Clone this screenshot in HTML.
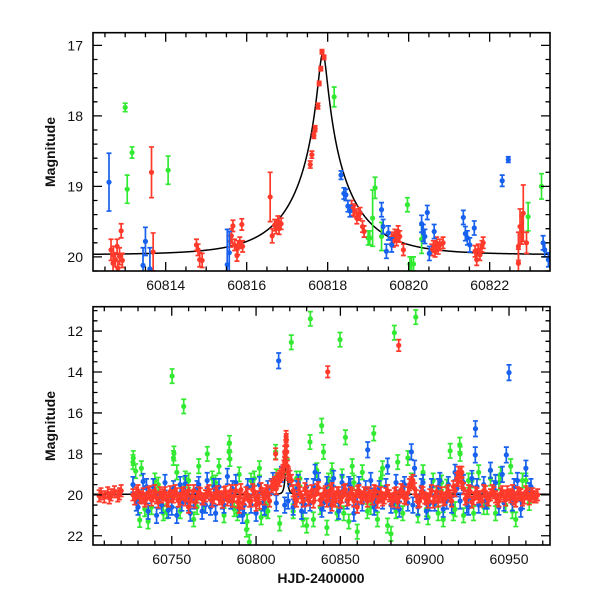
<!DOCTYPE html>
<html><head><meta charset="utf-8"><style>
html,body{margin:0;padding:0;background:#fff;}
svg{display:block;font-family:"Liberation Sans",Arial,sans-serif;}
</style></head><body>
<svg id="chart" width="600" height="600" viewBox="0 0 600 600" xmlns="http://www.w3.org/2000/svg">
<defs>
<clipPath id="clipTop"><rect x="93" y="32.7" width="457" height="238.3"/></clipPath>
<clipPath id="clipBot"><rect x="93" y="306.7" width="457" height="238.3"/></clipPath>
</defs>
<g id="top"></g>
<g id="bot"></g>
<text x="0" y="0" transform="translate(55,152) rotate(-90)" text-anchor="middle" font-size="14" font-weight="bold" fill="#111">Magnitude</text>
<text x="0" y="0" transform="translate(55,426) rotate(-90)" text-anchor="middle" font-size="14" font-weight="bold" fill="#111">Magnitude</text>
<text x="321" y="583" text-anchor="middle" font-size="14" font-weight="bold" fill="#111">HJD-2400000</text>
</svg>
<script>
// ---- top panel data ----
const topRedT=[60812.9,60812.65,60812.71,60812.76,60812.82,60812.93,60812.7,60812.8,60812.86,60813.65,60813.69,60814.76,60814.8,60814.84,60814.9,60815.62,60815.66,60815.88,60815.7,60815.78,60815.9,60815.76,60815.83,60815.6,60816.58,60816.63,60816.69,60816.77,60816.85,60816.73,60816.8,60817.57,60817.61,60817.66,60817.69,60817.76,60817.79,60817.83,60817.86,60817.91,60818.59,60818.67,60818.76,60818.63,60818.8,60818.72,60818.86,60818.9,60819.58,60819.66,60819.74,60819.78,60819.87,60819.7,60819.62,60820.61,60820.69,60820.77,60820.85,60820.65,60820.73,60820.57,60821.64,60821.72,60821.81,60821.84,60821.68,60821.76,60822.71,60822.75,60822.79,60822.83,60822.71,60822.91];
const topRedM=[19.63,19.9,19.97,20.04,20.16,20.05,20.09,19.85,19.99,18.80,19.93,19.83,19.9,20.04,20.05,19.7,19.56,19.54,19.83,19.87,19.85,19.98,19.8,19.78,19.15,19.7,19.55,19.5,19.53,19.59,19.6,18.69,18.55,18.28,18.18,17.86,17.54,17.33,17.09,17.17,19.28,19.35,19.40,19.33,19.38,19.45,19.57,19.64,19.73,19.69,19.64,19.71,19.9,19.76,19.78,19.85,19.8,19.83,19.8,19.92,19.88,19.9,19.92,19.9,19.85,19.8,20.04,19.97,19.85,19.57,19.62,19.38,20.09,19.8];
const topRedE=[0.1,0.15,0.12,0.1,0.1,0.1,0.13,0.1,0.12,0.36,0.27,0.08,0.08,0.1,0.1,0.1,0.08,0.08,0.08,0.1,0.08,0.08,0.08,0.08,0.35,0.1,0.08,0.08,0.08,0.08,0.08,0.05,0.05,0.04,0.04,0.04,0.03,0.03,0.03,0.03,0.08,0.08,0.08,0.08,0.08,0.08,0.08,0.08,0.08,0.08,0.08,0.08,0.08,0.08,0.08,0.08,0.08,0.08,0.08,0.08,0.08,0.08,0.08,0.08,0.08,0.08,0.08,0.08,0.2,0.25,0.2,0.4,0.2,0.15];
const topBlueT=[60812.60,60813.50,60813.44,60813.61,60815.52,60815.57,60818.33,60818.40,60818.45,60818.5,60818.55,60819.33,60819.37,60819.45,60819.5,60819.58,60820.32,60820.36,60820.4,60820.46,60820.63,60820.51,60821.35,60821.4,60821.45,60821.51,60821.62,60822.31,60822.46,60823.32,60823.36,60823.45];
const topBlueM=[18.94,19.78,20.12,20.17,20.11,19.94,18.84,19.1,19.12,19.28,19.35,19.33,19.57,19.92,19.66,19.83,19.53,19.66,19.71,19.37,19.64,19.95,19.44,19.67,19.73,19.83,19.59,18.92,18.62,19.8,19.9,20.04];
const topBlueE=[0.41,0.2,0.25,0.3,0.5,0.3,0.06,0.08,0.08,0.08,0.08,0.1,0.1,0.1,0.1,0.1,0.12,0.12,0.1,0.1,0.1,0.1,0.1,0.1,0.1,0.1,0.1,0.08,0.04,0.1,0.1,0.1];
const topGreenT=[60813.0,60813.17,60813.05,60814.06,60818.16,60819.17,60819.11,60819.0,60819.04,60819.33,60819.97,60820.03,60820.07,60820.12,60820.32,60822.95,60823.28];
const topGreenM=[17.88,18.52,19.04,18.77,17.73,19.02,19.45,19.73,19.73,19.71,19.26,20.1,20.1,20.1,19.75,19.43,19.0];
const topGreenE=[0.06,0.08,0.2,0.2,0.14,0.15,0.4,0.1,0.1,0.2,0.1,0.1,0.1,0.1,0.2,0.2,0.18];
const topXTicks=[60814,60816,60818,60820,60822];
const topYTicks=[17,18,19,20];
// ---- bottom panel data ----
const botRedT=[60707,60708,60710,60712,60713,60714,60716,60718,60719,60720,
60727,60729,60731,60733,60735,60737,60739,60741,60743,60745,60747,60749,60751,60753,60755,60757,60759,60761,60763,60765,60767,60769,60771,60773,60775,60777,60779,60781,60783,60785,60787,60789,60791,60793,60795,60797,60799,60801,60803,60805,60807,60809,60811,60813,60815,60817,60819,60821,60823,60825,60827,60829,60831,60833,60835,60837,60839,60841,60843,60845,60847,60849,60851,60853,60855,60857,60859,60861,60863,60865,60867,60869,60871,60873,60875,60877,60879,60881,60883,60885,60887,60889,60891,60893,60895,60897,60899,60901,60903,60905,60907,60909,60911,60913,60915,60917,60919,60921,60923,60925,60927,60929,60931,60933,60935,60937,60939,60941,60943,60945,60947,60949,60951,60953,60955,60957,60959,60961,60963,60965,60967,
60817.3,60817.6,60817.8,60817.9,60818.2,60811.6,60814,60842.5,60884.6,60760,60790,60800,60845,60860,60920,60922,60816.5,60817.0,60818.6,60819.2,60815.8,60812.5];
const botRedM=[20.05,19.95,20.1,19.9,20.15,20.0,19.85,20.05,19.95,19.8,
20.0,19.9,20.1,19.95,20.2,19.85,20.05,20.15,19.9,20.0,20.25,19.85,20.1,19.95,20.2,19.9,20.05,20.3,19.8,20.1,19.95,20.2,19.9,20.0,20.15,19.85,20.1,19.9,20.25,19.8,20.05,20.35,19.75,20.2,20.0,20.3,19.85,20.1,19.7,20.2,19.9,19.6,19.4,19.2,19.0,18.4,18.9,19.3,20.2,19.5,20.1,19.7,20.25,19.8,20.0,19.65,20.2,19.85,20.05,19.7,20.3,19.9,20.1,19.75,20.2,19.95,20.05,19.8,20.15,20.0,19.9,20.2,19.85,20.1,20.25,19.95,20.05,20.3,19.9,20.1,19.85,20.2,19.5,19.3,20.05,20.3,19.9,20.2,20.0,20.35,19.85,20.1,20.25,19.9,20.05,19.6,19.2,18.9,19.7,20.1,19.85,20.2,19.95,20.1,19.8,20.15,20.0,19.9,20.2,19.95,20.05,19.85,20.1,20.2,19.9,20.0,20.15,19.95,20.05,20.1,20.0,
18.3,17.6,17.15,17.3,17.9,18.0,19.1,13.99,12.7,20.6,20.6,20.5,20.5,20.6,18.9,18.9,18.6,17.9,18.6,19.0,18.9,19.3];
const botRed2T=[60728,60730,60732,60734,60736,60738,60740,60742,60744,60746,60748,60750,60752,60754,60756,60758,60760,60762,60764,60766,60768,60770,60772,60774,60776,60778,60780,60782,60784,60786,60788,60790,60792,60794,60796,60798,60800,60802,60804,60806,60808,60810,60812,60814,60816,60818,60820,60822,60824,60826,60828,60830,60832,60834,60836,60838,60840,60842,60844,60846,60848,60850,60852,60854,60856,60858,60860,60862,60864,60866,60868,60870,60872,60874,60876,60878,60880,60882,60884,60886,60888,60890,60892,60894,60896,60898,60900,60902,60904,60906,60908,60910,60912,60914,60916,60918,60920,60922,60924,60926,60928,60930,60932,60934,60936,60938,60940,60942,60944,60946,60948,60950,60952,60954,60956,60958,60960,60962,60964,60966];
const botRed2M=[20.2,19.8,20.15,20.3,19.9,20.25,19.8,20.35,20.1,19.9,20.3,20.05,19.8,20.3,19.95,20.25,19.8,20.1,20.35,19.9,20.2,20.05,19.8,20.3,19.95,20.2,20.35,19.85,20.1,20.3,19.8,20.15,20.4,19.9,20.3,19.75,20.25,20.4,19.95,19.8,20.3,19.5,19.7,19.3,18.8,17.6,19.1,19.8,20.3,19.9,20.3,19.85,20.1,20.35,19.75,20.25,19.95,20.3,19.8,20.1,19.9,20.35,19.8,20.25,19.9,20.3,19.85,20.1,19.9,20.3,20.05,19.8,20.35,19.9,20.15,19.8,20.2,19.95,20.35,19.75,20.15,19.9,19.4,19.7,20.35,19.85,20.15,20.35,19.8,20.1,20.3,19.9,20.2,19.8,20.3,19.8,19.3,19.4,20.2,19.8,20.35,19.9,20.1,20.3,19.85,20.25,19.8,20.1,20.3,19.85,20.25,20.0,19.8,20.3,19.95,20.25,19.85,20.2,19.95,20.1];
const botBlueT=[60727,60730,60733,60736,60739,60741,60744,60746,60748,60751,60753,60756,60758,60761,60763,60766,60768,60771,60773,60776,60778,60781,60783,60785,60788,60790,60792,60795,60797,60800,60802,60805,60807,60810,60812,60813.4,60815,60817,60820,60822,60825,60827,60830,60832,60835,60837,60839,60842,60844,60846,60849,60851,60854,60856,60858,60861,60863,60866.2,60868,60870,60873,60875,60878,60880,60883,60885,60888,60890,60892.1,60894,60896,60899,60901,60904,60906,60909,60911,60914,60916,60918,60921,60923,60926,60928,60930.1,60930,60932,60935,60937,60939,60942,60944,60946,60948.4,60950,60952,60955,60957,60960,60963,
60729,60735,60742,60750,60755,60760,60765,60770,60775,60780,60786,60793,60798,60804,60809,60819,60824,60829,60834,60840,60845,60850,60855,60860,60865,60871,60877,60882,60887,60893,60898,60903,60908,60913,60919,60925,60931,60936,60941,60947,60953,60958,60962];
const botBlueM=[19.5,20.6,19.35,20.8,19.6,21.0,20.5,19.4,20.75,19.7,21.0,20.4,19.45,20.9,20.3,19.5,20.8,19.3,20.6,20.9,19.6,20.5,19.1,20.3,19.4,20.7,21.0,19.6,20.5,20.9,19.5,20.6,19.7,19.3,20.4,13.45,19.0,20.5,19.2,20.6,19.4,20.8,19.6,20.4,18.9,19.3,20.7,19.5,20.5,19.2,20.8,19.4,20.3,19.6,20.9,19.5,20.4,17.8,19.3,20.6,19.7,20.3,18.6,20.5,19.4,20.7,19.5,20.4,17.9,18.7,20.6,19.4,20.8,19.6,20.4,19.3,20.7,19.5,20.5,18.9,20.3,19.4,20.6,19.2,16.77,18.05,20.5,19.5,20.3,18.8,19.4,20.6,19.0,18.05,14.03,20.4,19.3,20.7,18.7,19.6,
20.4,19.6,20.3,20.6,19.5,20.4,19.7,20.5,19.6,20.3,19.7,20.5,19.6,20.4,19.6,20.3,19.7,20.5,19.6,20.4,19.7,20.3,19.5,20.5,19.7,20.4,19.6,20.3,19.7,20.5,19.6,20.4,19.6,20.3,19.7,20.5,19.6,20.3,19.7,20.4,19.6,20.3,19.8];
const botGreenT=[60727.2,60727,60728.6,60731,60732,60736,60738,60742,60745,60750.2,60751.3,60751,60753,60755,60757.1,60760,60763,60766,60769,60771.1,60774,60778,60781,60784.2,60784,60784.5,60787,60790,60794.7,60794.3,60796,60799,60802,60803,60807,60811.6,60814,60817.8,60818.5,60820.9,60824,60827.8,60830,60832.2,60832,60834,60836,60838.9,60840,60842,60845,60848,60849.8,60851,60853,60855,60857,60860,60863,60866,60869.8,60872,60875,60878,60880,60882,60884,60887,60890,60894.7,60896,60899,60902,60905,60908,60911,60913,60915.1,60918,60920.8,60921,60923,60926,60929,60932,60935,60939,60942,60945,60948,60951,60954,60958,60962,
60734,60740,60747,60758,60765,60776,60789,60797,60806,60812,60822,60826,60838,60843,60852,60858,60868,60874,60883,60892,60901,60910,60917,60928,60937,60944,60952,60960];
const botGreenM=[18.2,18.4,18.84,21.23,18.7,21.3,20.6,19.5,20.9,14.2,17.98,18.2,18.9,20.8,15.68,19.3,21.2,18.6,20.5,18.0,19.2,18.6,21.0,17.46,17.9,18.25,20.7,19.0,21.3,21.7,22.3,19.2,18.7,21.1,20.8,17.9,21.4,18.2,18.6,12.55,19.2,21.2,21.5,11.4,17.42,21.2,18.8,16.62,17.9,21.6,18.8,20.9,12.42,19.1,17.19,21.3,18.6,21.8,18.9,20.8,17.0,21.2,18.7,21.5,21.9,12.08,18.4,20.9,18.2,11.32,21.0,18.9,21.1,19.3,20.9,21.2,19.6,17.85,20.7,17.55,18.0,21.0,19.3,20.9,18.9,20.6,19.2,20.9,19.0,20.5,18.6,21.2,19.3,20.4,
20.7,19.3,20.8,19.2,20.6,19.4,20.9,19.3,20.7,19.1,20.8,19.2,20.6,19.3,20.9,19.4,20.6,19.2,20.8,19.3,20.7,19.4,20.9,19.3,20.6,19.4,20.8,19.3];
const botXTicks=[60750,60800,60850,60900,60950];
const botYTicks=[12,14,16,18,20,22];
const botErrRed=0.28, botErrBlue=0.38, botErrGreen=0.35;

const NS="http://www.w3.org/2000/svg";
const COL={red:"#ff3a2a",blue:"#1761ee",green:"#33ea33"};
function mk(tag,attrs,parent){const e=document.createElementNS(NS,tag);for(const k in attrs)e.setAttribute(k,attrs[k]);parent.appendChild(e);return e;}
function model(t){const u0=0.072,t0=60817.88,tE=1.45;const d=(t-t0)/tE;const u=Math.sqrt(u0*u0+d*d);const A=(u*u+2)/(u*Math.sqrt(u*u+4));return 19.97-2.5*Math.log10(A);}

function panel(g,cfg){
  const L=93,R=550,T=cfg.top,B=cfg.bottom;
  const sx=t=>L+(t-cfg.x0)/(cfg.x1-cfg.x0)*(R-L);
  const sy=m=>T+(m-cfg.y0)/(cfg.y1-cfg.y0)*(B-T);
  const plot=mk("g",{"clip-path":"url(#"+cfg.clip+")"},g);
  
  
  let d="";
  for(let i=0;i<=1200;i++){const t=cfg.x0+(cfg.x1-cfg.x0)*i/1200;d+=(i?"L":"M")+sx(t).toFixed(2)+" "+sy(model(t)).toFixed(2);}
  const c=mk("path",{d:d,fill:"none",stroke:"#000","stroke-width":1.5},plot);
  
  
  function series(name,T_,M_,E_,col,r){
    const sg=mk("g",{},plot);
    
    
    for(let i=0;i<T_.length;i++){
      const x=sx(T_[i]),y=sy(M_[i]);const e=Array.isArray(E_)?E_[i]:E_;
      const y1=sy(M_[i]-e),y2=sy(M_[i]+e);
      mk("path",{d:`M${x} ${y1}V${y2}M${x-2.5} ${y1}h5M${x-2.5} ${y2}h5`,stroke:col,"stroke-width":1.7,fill:"none"},sg);
      const p=mk("circle",{cx:x,cy:y,r:r,fill:col},sg);
      
      
    }
  }
  cfg.series.forEach(s=>series(s[0],s[1],s[2],s[3],s[4],cfg.r));
  const f=mk("rect",{x:L,y:T,width:R-L,height:B-T,fill:"none",stroke:"#000","stroke-width":1.6},g);
  
  
  let td="";
  for(let v=Math.ceil(cfg.x0/cfg.xm)*cfg.xm;v<=cfg.x1;v+=cfg.xm){
    const x=sx(v);const major=Math.abs(v/cfg.xM-Math.round(v/cfg.xM))<1e-6;const len=major?9:4.5;
    td+=`M${x} ${B}v${-len}M${x} ${T}v${len}`;
  }
  for(let v=Math.ceil(cfg.y0/cfg.ym)*cfg.ym;v<=cfg.y1+1e-9;v+=cfg.ym){
    const y=sy(v);const major=Math.abs(v/cfg.yM-Math.round(v/cfg.yM))<1e-6;const len=major?9:4.5;
    td+=`M${L} ${y}h${len}M${R} ${y}h${-len}`;
  }
  const tk=mk("path",{d:td,stroke:"#000","stroke-width":1.3,fill:"none"},g);
  
  
  cfg.xt.forEach(v=>{
    const t=mk("text",{x:sx(v),y:B+19,"text-anchor":"middle","font-size":14,fill:"#111"},g);
    t.textContent=v;
    
    
  });
  cfg.yt.forEach(v=>{
    const t=mk("text",{x:83,y:sy(v)+5,"text-anchor":"end","font-size":14,fill:"#111"},g);
    t.textContent=v;
    
    
  });
}
panel(document.getElementById("top"),{top:32.7,bottom:271,x0:60812.205,x1:60823.49,y0:16.82,y1:20.2,xm:0.5,xM:2,ym:0.2,yM:1,clip:"clipTop",r:2.6,xt:topXTicks,yt:topYTicks,
  series:[["green-series",topGreenT,topGreenM,topGreenE,COL.green],["red-series",topRedT,topRedM,topRedE,COL.red],["blue-series",topBlueT,topBlueM,topBlueE,COL.blue]]});
panel(document.getElementById("bot"),{top:306.7,bottom:545,x0:60703.3,x1:60974.3,y0:10.81,y1:22.45,xm:10,xM:50,ym:0.5,yM:2,clip:"clipBot",r:2.6,xt:botXTicks,yt:botYTicks,
  series:[["green-series",botGreenT,botGreenM,botErrGreen,COL.green],["blue-series",botBlueT,botBlueM,botErrBlue,COL.blue],["red-series",botRedT,botRedM,botErrRed,COL.red],["red-series-2",botRed2T,botRed2M,botErrRed,COL.red]]});
</script>
</body></html>
